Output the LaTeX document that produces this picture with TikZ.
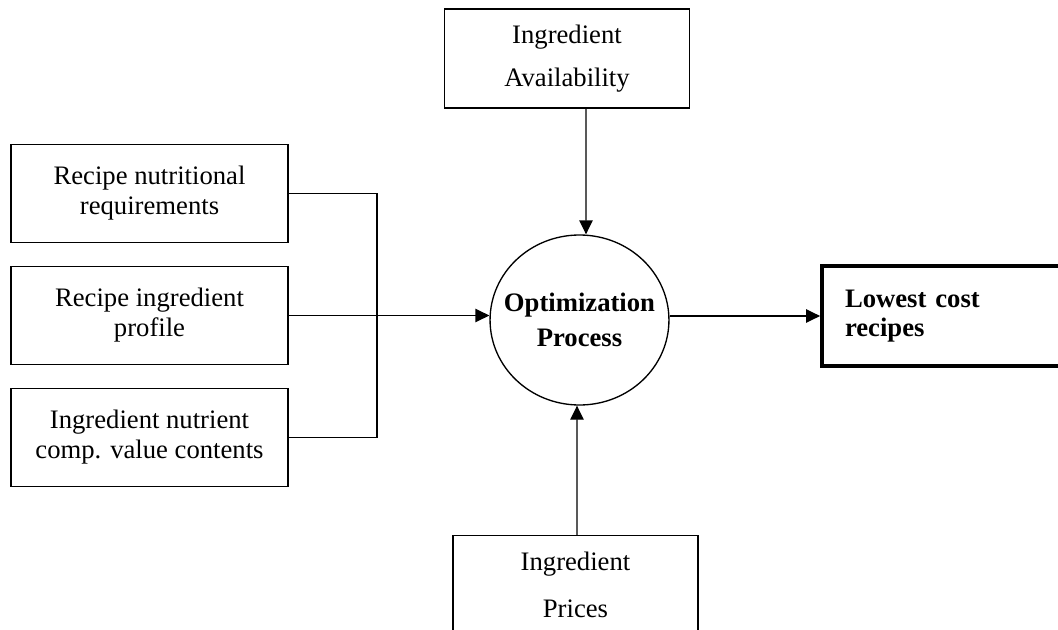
\documentclass[tikz,border=0pt]{standalone}
\usepackage{fontspec}
\setmainfont{Liberation Serif}
\usetikzlibrary{arrows.meta}
\usetikzlibrary{shapes.geometric}

\begin{document}
\begin{tikzpicture}[
			     x=0.45pt, y=-0.45pt,
			     >={Triangle[length=6.3pt,width=6pt]},
			     line width=0.6pt,
			     font=\fontsize{12}{13.5}\selectfont,
			     inbox/.style={draw, align=center, inner sep=0pt, minimum width=124.7pt, minimum height=44.1pt},
			     srcbox/.style={draw, align=center, inner sep=0pt, minimum width=110.2pt, minimum height=44.6pt},
			     process/.style={draw, ellipse, align=center, inner xsep=-7pt, inner ysep=0pt, minimum width=80.5pt, minimum height=76.5pt, font=\fontsize{12}{15.75}\selectfont\bfseries},
			     outbox/.style={draw, line width=1.8pt, align=left, inner xsep=10.3pt, inner ysep=0pt, text width=96.3pt, minimum height=45pt, font=\fontsize{12}{13}\selectfont\bfseries},
			     normal line/.style={->}
			     ]
\useasboundingbox (0,0) rectangle (1058,630);
\clip (0,0) rectangle (1058,630);
% inputs
\node[srcbox] (avail) at (567,58.5) {Ingredient\\[5.85pt]Availability};
\node[inbox] (nutreq) at (149.5,193.5) {Recipe nutritional\\requirements};
\node[inbox] (profile) at (149.5,315.5) {Recipe ingredient\\profile};
\node[inbox] (nutcomp) at (149.5,437.5) {Ingredient nutrient\\comp. value contents};
\node[srcbox] (prices) at (575.5,585) {Ingredient\\[7.5pt]Prices};
% process and output
\node[process] (optim) at (579.5,320) {Optimization\\Process};
\node[outbox] (recipes) at (952,316) {Lowest cost\\recipes};
\coordinate (join) at (377,0 |- profile.east);
% connectors
\draw (nutreq.east) -| (join) |- (nutcomp.east);
\draw[normal line] (profile.east) -- (profile.east -| optim.west);
\draw[normal line] ([shift={(19,0)}]avail.south) -- ([shift={(6.5,0)}]optim.north);
\draw[normal line] ([shift={(1.5,0)}]prices.north) -- ([shift={(-2.5,0)}]optim.south);
\draw[normal line] (recipes.west -| optim.east) -- (recipes.west);
\end{tikzpicture}
\end{document}
